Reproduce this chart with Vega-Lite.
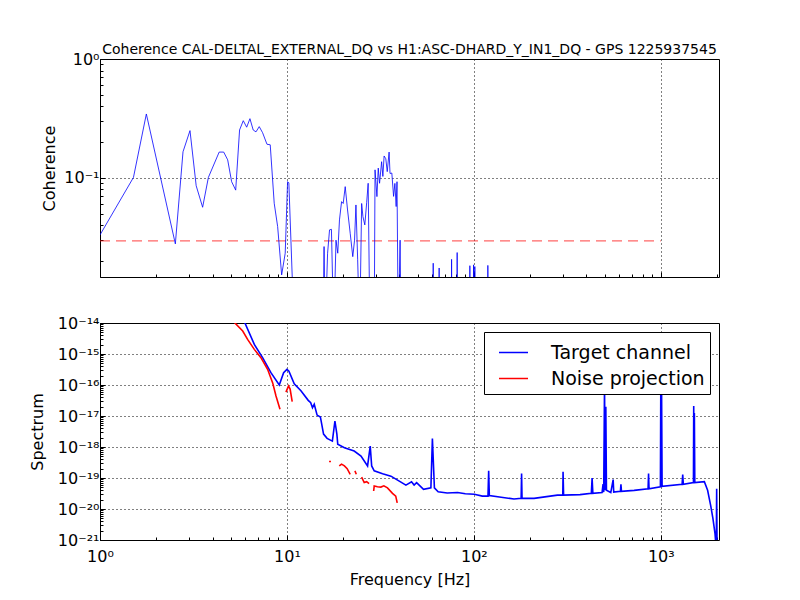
{
  "$schema": "https://vega.github.io/schema/vega-lite/v6.json",
  "background": "white",
  "padding": {"left": 28, "top": 42, "right": 0, "bottom": 0},
  "spacing": 36,
  "resolve": {"legend": {"color": "independent"}},
  "config": {
    "font": "DejaVu Sans",
    "view": {"stroke": "black", "strokeWidth": 1},
    "axis": {
      "domain": false,
      "grid": true,
      "gridColor": "black",
      "gridDash": [1, 3],
      "labelFontSize": 16,
      "labelColor": "black",
      "labelOverlap": false,
      "labelFlush": false,
      "titleFontSize": 16,
      "titleFontWeight": "normal",
      "titleColor": "black",
      "tickColor": "black"
    },
    "axisY": {"labelPadding": 6},
    "axisX": {"labelPadding": 13}
  },
  "datasets": {
    "coherence": [
      {"f": 1.0, "c": 0.0332}, {"f": 1.51, "c": 0.101}, {"f": 1.77, "c": 0.345}, {"f": 2.53, "c": 0.0279},
      {"f": 2.78, "c": 0.166}, {"f": 3.03, "c": 0.25}, {"f": 3.27, "c": 0.086}, {"f": 3.54, "c": 0.0567},
      {"f": 3.80, "c": 0.101}, {"f": 4.34, "c": 0.165}, {"f": 4.59, "c": 0.165}, {"f": 4.82, "c": 0.142},
      {"f": 5.06, "c": 0.093}, {"f": 5.32, "c": 0.079}, {"f": 5.58, "c": 0.253}, {"f": 5.84, "c": 0.303},
      {"f": 6.09, "c": 0.267}, {"f": 6.34, "c": 0.315}, {"f": 6.60, "c": 0.253}, {"f": 6.83, "c": 0.244},
      {"f": 7.11, "c": 0.27}, {"f": 7.41, "c": 0.24}, {"f": 7.82, "c": 0.192}, {"f": 8.14, "c": 0.19},
      {"f": 8.55, "c": 0.0613}, {"f": 8.92, "c": 0.039}, {"f": 9.37, "c": 0.0153}, {"f": 9.79, "c": 0.0233},
      {"f": 10.08, "c": 0.093}, {"f": 10.24, "c": 0.091}, {"f": 10.94, "c": 0.005}, {"f": 15.6, "c": 0.005},
      {"f": 15.8, "c": 0.0265}, {"f": 16.0, "c": 0.005}, {"f": 16.5, "c": 0.0233}, {"f": 16.9, "c": 0.0366},
      {"f": 17.3, "c": 0.037}, {"f": 17.8, "c": 0.005}, {"f": 18.3, "c": 0.030}, {"f": 18.7, "c": 0.0233},
      {"f": 19.1, "c": 0.0444}, {"f": 19.6, "c": 0.0632}, {"f": 20.0, "c": 0.061}, {"f": 20.5, "c": 0.0845},
      {"f": 21.1, "c": 0.0538}, {"f": 21.8, "c": 0.0343}, {"f": 22.5, "c": 0.0218}, {"f": 23.0, "c": 0.030},
      {"f": 23.4, "c": 0.0593}, {"f": 23.9, "c": 0.0205}, {"f": 24.5, "c": 0.005}, {"f": 25.1, "c": 0.061},
      {"f": 25.5, "c": 0.0473}, {"f": 26.1, "c": 0.0403}, {"f": 26.7, "c": 0.062}, {"f": 27.2, "c": 0.0902},
      {"f": 27.8, "c": 0.005}, {"f": 29.3, "c": 0.005}, {"f": 29.6, "c": 0.117}, {"f": 30.3, "c": 0.0697},
      {"f": 30.8, "c": 0.121}, {"f": 31.3, "c": 0.0902}, {"f": 32.1, "c": 0.137}, {"f": 32.6, "c": 0.103},
      {"f": 33.1, "c": 0.153}, {"f": 33.8, "c": 0.145}, {"f": 34.4, "c": 0.113}, {"f": 35.2, "c": 0.165},
      {"f": 35.6, "c": 0.109}, {"f": 36.4, "c": 0.11}, {"f": 37.2, "c": 0.07}, {"f": 37.8, "c": 0.09},
      {"f": 38.4, "c": 0.0575}, {"f": 38.8, "c": 0.093}, {"f": 39.4, "c": 0.005}, {"f": 40.3, "c": 0.03},
      {"f": 40.8, "c": 0.005},
      {"f": 60.3, "c": 0.005}, {"f": 60.6, "c": 0.0192}, {"f": 60.9, "c": 0.005},
      {"f": 65.0, "c": 0.005}, {"f": 65.2, "c": 0.0175}, {"f": 65.4, "c": 0.005},
      {"f": 75.8, "c": 0.005}, {"f": 76.0, "c": 0.0207}, {"f": 76.2, "c": 0.005},
      {"f": 81.2, "c": 0.005}, {"f": 81.4, "c": 0.0236}, {"f": 81.6, "c": 0.005},
      {"f": 95.0, "c": 0.005}, {"f": 95.2, "c": 0.0183}, {"f": 95.4, "c": 0.005},
      {"f": 99.4, "c": 0.005}, {"f": 99.6, "c": 0.0186}, {"f": 99.8, "c": 0.005},
      {"f": 101.0, "c": 0.005}, {"f": 101.2, "c": 0.018}, {"f": 101.4, "c": 0.005},
      {"f": 118.6, "c": 0.005}, {"f": 118.8, "c": 0.0184}, {"f": 119.0, "c": 0.005},
      {"f": 2048, "c": 0.005}
    ],
    "threshold": [
      {"f": 1, "c": 0.0296},
      {"f": 1000, "c": 0.0296}
    ],
    "spectrum": [
      {"series": "Target channel", "seg": 0, "f": 4, "s": 1e-13},
      {"series": "Target channel", "seg": 0, "f": 5.96, "s": 1e-14},
      {"series": "Target channel", "seg": 0, "f": 6.69, "s": 2.04e-15},
      {"series": "Target channel", "seg": 0, "f": 7.41, "s": 7.6e-16},
      {"series": "Target channel", "seg": 0, "f": 8.21, "s": 2.5e-16},
      {"series": "Target channel", "seg": 0, "f": 9.10, "s": 1.0e-16},
      {"series": "Target channel", "seg": 0, "f": 9.60, "s": 2.5e-16},
      {"series": "Target channel", "seg": 0, "f": 10.0, "s": 3.2e-16},
      {"series": "Target channel", "seg": 0, "f": 10.25, "s": 2.8e-16},
      {"series": "Target channel", "seg": 0, "f": 10.94, "s": 1.1e-16},
      {"series": "Target channel", "seg": 0, "f": 11.88, "s": 6.5e-17},
      {"series": "Target channel", "seg": 0, "f": 13.0, "s": 3.2e-17},
      {"series": "Target channel", "seg": 0, "f": 13.4, "s": 2.7e-17},
      {"series": "Target channel", "seg": 0, "f": 13.7, "s": 1.86e-17},
      {"series": "Target channel", "seg": 0, "f": 14.0, "s": 2.4e-17},
      {"series": "Target channel", "seg": 0, "f": 14.5, "s": 1.07e-17},
      {"series": "Target channel", "seg": 0, "f": 15.1, "s": 9.3e-18},
      {"series": "Target channel", "seg": 0, "f": 15.7, "s": 2.6e-18},
      {"series": "Target channel", "seg": 0, "f": 16.4, "s": 1.9e-18},
      {"series": "Target channel", "seg": 0, "f": 17.5, "s": 1.55e-18},
      {"series": "Target channel", "seg": 0, "f": 18.06, "s": 6.9e-18},
      {"series": "Target channel", "seg": 0, "f": 18.5, "s": 2.6e-18},
      {"series": "Target channel", "seg": 0, "f": 18.7, "s": 1.23e-18},
      {"series": "Target channel", "seg": 0, "f": 20.3, "s": 9.5e-19},
      {"series": "Target channel", "seg": 0, "f": 22.9, "s": 7.4e-19},
      {"series": "Target channel", "seg": 0, "f": 24.9, "s": 5.1e-19},
      {"series": "Target channel", "seg": 0, "f": 27.0, "s": 2.45e-19},
      {"series": "Target channel", "seg": 0, "f": 27.9, "s": 1.07e-18},
      {"series": "Target channel", "seg": 0, "f": 28.4, "s": 2.45e-19},
      {"series": "Target channel", "seg": 0, "f": 29.3, "s": 1.7e-19},
      {"series": "Target channel", "seg": 0, "f": 32.5, "s": 1.38e-19},
      {"series": "Target channel", "seg": 0, "f": 36.0, "s": 1.15e-19},
      {"series": "Target channel", "seg": 0, "f": 39.9, "s": 7.9e-20},
      {"series": "Target channel", "seg": 0, "f": 43.3, "s": 5.9e-20},
      {"series": "Target channel", "seg": 0, "f": 46.4, "s": 7.6e-20},
      {"series": "Target channel", "seg": 0, "f": 47.9, "s": 5.9e-20},
      {"series": "Target channel", "seg": 0, "f": 49.4, "s": 7.1e-20},
      {"series": "Target channel", "seg": 0, "f": 53.8, "s": 4.3e-20},
      {"series": "Target channel", "seg": 0, "f": 58.9, "s": 4.8e-20},
      {"series": "Target channel", "seg": 0, "f": 60.0, "s": 1.86e-18},
      {"series": "Target channel", "seg": 0, "f": 61.5, "s": 4.8e-20},
      {"series": "Target channel", "seg": 0, "f": 64.4, "s": 3.6e-20},
      {"series": "Target channel", "seg": 0, "f": 72.0, "s": 3.3e-20},
      {"series": "Target channel", "seg": 0, "f": 81.8, "s": 3.4e-20},
      {"series": "Target channel", "seg": 0, "f": 90.0, "s": 3.1e-20},
      {"series": "Target channel", "seg": 0, "f": 100.5, "s": 3.0e-20},
      {"series": "Target channel", "seg": 0, "f": 111, "s": 2.6e-20},
      {"series": "Target channel", "seg": 0, "f": 119, "s": 2.6e-20},
      {"series": "Target channel", "seg": 0, "f": 120, "s": 1.7e-19},
      {"series": "Target channel", "seg": 0, "f": 121, "s": 2.7e-20},
      {"series": "Target channel", "seg": 0, "f": 140, "s": 2.4e-20},
      {"series": "Target channel", "seg": 0, "f": 164, "s": 2.1e-20},
      {"series": "Target channel", "seg": 0, "f": 179, "s": 2.2e-20},
      {"series": "Target channel", "seg": 0, "f": 180, "s": 1.4e-19},
      {"series": "Target channel", "seg": 0, "f": 181, "s": 2.2e-20},
      {"series": "Target channel", "seg": 0, "f": 210, "s": 2.2e-20},
      {"series": "Target channel", "seg": 0, "f": 245, "s": 2.5e-20},
      {"series": "Target channel", "seg": 0, "f": 280, "s": 2.8e-20},
      {"series": "Target channel", "seg": 0, "f": 299, "s": 2.8e-20},
      {"series": "Target channel", "seg": 0, "f": 300, "s": 1.6e-19},
      {"series": "Target channel", "seg": 0, "f": 302, "s": 2.8e-20},
      {"series": "Target channel", "seg": 0, "f": 370, "s": 2.9e-20},
      {"series": "Target channel", "seg": 0, "f": 425, "s": 3.2e-20},
      {"series": "Target channel", "seg": 0, "f": 429, "s": 1.0e-19},
      {"series": "Target channel", "seg": 0, "f": 433, "s": 3.2e-20},
      {"series": "Target channel", "seg": 0, "f": 485, "s": 3.4e-20},
      {"series": "Target channel", "seg": 0, "f": 491, "s": 6.3e-20},
      {"series": "Target channel", "seg": 0, "f": 495, "s": 3.5e-20},
      {"series": "Target channel", "seg": 0, "f": 500, "s": 1e-16},
      {"series": "Target channel", "seg": 0, "f": 504, "s": 4e-20},
      {"series": "Target channel", "seg": 0, "f": 508, "s": 2e-17},
      {"series": "Target channel", "seg": 0, "f": 512, "s": 4e-20},
      {"series": "Target channel", "seg": 0, "f": 540, "s": 3.4e-20},
      {"series": "Target channel", "seg": 0, "f": 556, "s": 8.9e-20},
      {"series": "Target channel", "seg": 0, "f": 560, "s": 3.5e-20},
      {"series": "Target channel", "seg": 0, "f": 608, "s": 3.7e-20},
      {"series": "Target channel", "seg": 0, "f": 612, "s": 6.3e-20},
      {"series": "Target channel", "seg": 0, "f": 616, "s": 3.7e-20},
      {"series": "Target channel", "seg": 0, "f": 720, "s": 4.0e-20},
      {"series": "Target channel", "seg": 0, "f": 855, "s": 4.5e-20},
      {"series": "Target channel", "seg": 0, "f": 860, "s": 1.4e-19},
      {"series": "Target channel", "seg": 0, "f": 865, "s": 4.5e-20},
      {"series": "Target channel", "seg": 0, "f": 995, "s": 5.2e-20},
      {"series": "Target channel", "seg": 0, "f": 1000, "s": 1e-16},
      {"series": "Target channel", "seg": 0, "f": 1005, "s": 5.2e-20},
      {"series": "Target channel", "seg": 0, "f": 1010, "s": 5e-17},
      {"series": "Target channel", "seg": 0, "f": 1016, "s": 5.4e-20},
      {"series": "Target channel", "seg": 0, "f": 1300, "s": 6.3e-20},
      {"series": "Target channel", "seg": 0, "f": 1310, "s": 1.3e-19},
      {"series": "Target channel", "seg": 0, "f": 1320, "s": 6.3e-20},
      {"series": "Target channel", "seg": 0, "f": 1495, "s": 7.1e-20},
      {"series": "Target channel", "seg": 0, "f": 1500, "s": 2.1e-17},
      {"series": "Target channel", "seg": 0, "f": 1506, "s": 7.1e-20},
      {"series": "Target channel", "seg": 0, "f": 1512, "s": 1.26e-17},
      {"series": "Target channel", "seg": 0, "f": 1520, "s": 7.1e-20},
      {"series": "Target channel", "seg": 0, "f": 1710, "s": 7.6e-20},
      {"series": "Target channel", "seg": 0, "f": 1780, "s": 4e-20},
      {"series": "Target channel", "seg": 0, "f": 1850, "s": 1.26e-20},
      {"series": "Target channel", "seg": 0, "f": 1900, "s": 5e-21},
      {"series": "Target channel", "seg": 0, "f": 1950, "s": 1.6e-21},
      {"series": "Target channel", "seg": 0, "f": 1980, "s": 5e-22},
      {"series": "Target channel", "seg": 0, "f": 1990, "s": 4.5e-20},
      {"series": "Target channel", "seg": 0, "f": 2000, "s": 4e-22},
      {"series": "Target channel", "seg": 0, "f": 2048, "s": 2.5e-22},
      {"series": "Noise projection", "seg": 1, "f": 4.5, "s": 5e-14},
      {"series": "Noise projection", "seg": 1, "f": 5.27, "s": 1e-14},
      {"series": "Noise projection", "seg": 1, "f": 5.80, "s": 5.5e-15},
      {"series": "Noise projection", "seg": 1, "f": 6.16, "s": 2.95e-15},
      {"series": "Noise projection", "seg": 1, "f": 6.69, "s": 1.41e-15},
      {"series": "Noise projection", "seg": 1, "f": 7.26, "s": 7.6e-16},
      {"series": "Noise projection", "seg": 1, "f": 7.88, "s": 3.2e-16},
      {"series": "Noise projection", "seg": 1, "f": 8.39, "s": 1.17e-16},
      {"series": "Noise projection", "seg": 1, "f": 8.74, "s": 4.4e-17},
      {"series": "Noise projection", "seg": 1, "f": 9.18, "s": 1.66e-17},
      {"series": "Noise projection", "seg": 2, "f": 9.88, "s": 5.9e-17},
      {"series": "Noise projection", "seg": 2, "f": 10.2, "s": 9.3e-17},
      {"series": "Noise projection", "seg": 2, "f": 10.4, "s": 7.4e-17},
      {"series": "Noise projection", "seg": 2, "f": 10.67, "s": 2.9e-17},
      {"series": "Noise projection", "seg": 3, "f": 16.8, "s": 3.4e-19},
      {"series": "Noise projection", "seg": 3, "f": 17.2, "s": 3.4e-19},
      {"series": "Noise projection", "seg": 4, "f": 19.05, "s": 2.45e-19},
      {"series": "Noise projection", "seg": 4, "f": 19.6, "s": 2.8e-19},
      {"series": "Noise projection", "seg": 4, "f": 20.3, "s": 2.45e-19},
      {"series": "Noise projection", "seg": 4, "f": 21.0, "s": 2e-19},
      {"series": "Noise projection", "seg": 4, "f": 21.8, "s": 1.32e-19},
      {"series": "Noise projection", "seg": 5, "f": 23.1, "s": 1.7e-19},
      {"series": "Noise projection", "seg": 5, "f": 23.5, "s": 1.32e-19},
      {"series": "Noise projection", "seg": 6, "f": 25.1, "s": 1.07e-19},
      {"series": "Noise projection", "seg": 6, "f": 25.9, "s": 7.1e-20},
      {"series": "Noise projection", "seg": 6, "f": 26.7, "s": 7.6e-20},
      {"series": "Noise projection", "seg": 6, "f": 27.5, "s": 6.6e-20},
      {"series": "Noise projection", "seg": 7, "f": 29.1, "s": 3.8e-20},
      {"series": "Noise projection", "seg": 7, "f": 29.3, "s": 5.5e-20},
      {"series": "Noise projection", "seg": 7, "f": 30.5, "s": 5.2e-20},
      {"series": "Noise projection", "seg": 7, "f": 31.8, "s": 5.1e-20},
      {"series": "Noise projection", "seg": 7, "f": 33.0, "s": 5.6e-20},
      {"series": "Noise projection", "seg": 7, "f": 34.5, "s": 4.8e-20},
      {"series": "Noise projection", "seg": 7, "f": 36.7, "s": 3.2e-20},
      {"series": "Noise projection", "seg": 7, "f": 38.2, "s": 2.6e-20},
      {"series": "Noise projection", "seg": 7, "f": 38.9, "s": 1.58e-20}
    ]
  },
  "vconcat": [
    {
      "width": 619,
      "height": 218,
      "title": {
        "text": "Coherence CAL-DELTAL_EXTERNAL_DQ vs H1:ASC-DHARD_Y_IN1_DQ - GPS 1225937545",
        "fontSize": 14,
        "fontWeight": "normal",
        "color": "black",
        "offset": -6
      },
      "layer": [
        {
          "data": {"name": "threshold"},
          "mark": {"type": "line", "color": "#ff0000", "opacity": 0.6, "strokeDash": [10, 6], "strokeWidth": 1.2, "clip": true},
          "encoding": {
            "x": {"field": "f", "type": "quantitative", "scale": {"type": "log", "domain": [1, 2048], "nice": false}},
            "y": {"field": "c", "type": "quantitative", "scale": {"type": "log", "domain": [0.0147, 1], "nice": false}}
          }
        },
        {
          "data": {"name": "coherence"},
          "mark": {"type": "line", "color": "#0000ff", "strokeWidth": 0.8, "clip": true},
          "encoding": {
            "x": {
              "field": "f", "type": "quantitative",
              "scale": {"type": "log", "domain": [1, 2048], "nice": false},
              "axis": {
                "title": null,
                "labels": false,
                "values": [1,2,3,4,5,6,7,8,9,10,20,30,40,50,60,70,80,90,100,200,300,400,500,600,700,800,900,1000,2000],
                "tickSize": {"condition": {"test": "abs(log(datum.value)/LN10 - round(log(datum.value)/LN10)) < 0.01", "value": -5}, "value": -3},
                "gridOpacity": {"condition": {"test": "abs(log(datum.value)/LN10 - round(log(datum.value)/LN10)) < 0.01", "value": 1}, "value": 0}
              }
            },
            "y": {
              "field": "c", "type": "quantitative",
              "scale": {"type": "log", "domain": [0.0147, 1], "nice": false},
              "axis": {
                "title": "Coherence",
                "titlePadding": 6,
                "values": [0.02,0.03,0.04,0.05,0.06,0.07,0.08,0.09,0.1,0.2,0.3,0.4,0.5,0.6,0.7,0.8,0.9,1],
                "labelExpr": "abs(log(datum.value)/LN10 - round(log(datum.value)/LN10)) > 0.01 ? '' : '10' + (round(log(datum.value)/LN10) < 0 ? '⁻' : '') + (abs(round(log(datum.value)/LN10)) >= 10 ? substring('⁰¹²³⁴⁵⁶⁷⁸⁹', floor(abs(round(log(datum.value)/LN10))/10), floor(abs(round(log(datum.value)/LN10))/10) + 1) : '') + substring('⁰¹²³⁴⁵⁶⁷⁸⁹', abs(round(log(datum.value)/LN10)) % 10, abs(round(log(datum.value)/LN10)) % 10 + 1)",
                "tickSize": {"condition": {"test": "abs(log(datum.value)/LN10 - round(log(datum.value)/LN10)) < 0.01", "value": -5}, "value": -3},
                "gridOpacity": {"condition": {"test": "abs(log(datum.value)/LN10 - round(log(datum.value)/LN10)) < 0.01", "value": 1}, "value": 0}
              }
            }
          }
        }
      ]
    },
    {
      "width": 619,
      "height": 217,
      "data": {"name": "spectrum"},
      "mark": {"type": "line", "strokeWidth": 1.6, "clip": true},
      "encoding": {
        "x": {
          "field": "f", "type": "quantitative",
          "scale": {"type": "log", "domain": [1, 2048], "nice": false},
          "axis": {
            "title": "Frequency [Hz]",
            "titlePadding": 5,
            "values": [1,2,3,4,5,6,7,8,9,10,20,30,40,50,60,70,80,90,100,200,300,400,500,600,700,800,900,1000,2000],
            "labelExpr": "abs(log(datum.value)/LN10 - round(log(datum.value)/LN10)) > 0.01 ? '' : '10' + (round(log(datum.value)/LN10) < 0 ? '⁻' : '') + substring('⁰¹²³⁴⁵⁶⁷⁸⁹', abs(round(log(datum.value)/LN10)) % 10, abs(round(log(datum.value)/LN10)) % 10 + 1)",
            "tickSize": {"condition": {"test": "abs(log(datum.value)/LN10 - round(log(datum.value)/LN10)) < 0.01", "value": -5}, "value": -3},
            "gridOpacity": {"condition": {"test": "abs(log(datum.value)/LN10 - round(log(datum.value)/LN10)) < 0.01", "value": 1}, "value": 0}
          }
        },
        "y": {
          "field": "s", "type": "quantitative",
          "scale": {"type": "log", "domain": [1e-21, 1e-14], "nice": false},
          "axis": {
            "title": "Spectrum",
            "titlePadding": 12,
            "values": [1e-21,2e-21,3e-21,4e-21,5e-21,6e-21,7e-21,8e-21,9e-21,1e-20,2e-20,3e-20,4e-20,5e-20,6e-20,7e-20,8e-20,9e-20,1e-19,2e-19,3e-19,4e-19,5e-19,6e-19,7e-19,8e-19,9e-19,1e-18,2e-18,3e-18,4e-18,5e-18,6e-18,7e-18,8e-18,9e-18,1e-17,2e-17,3e-17,4e-17,5e-17,6e-17,7e-17,8e-17,9e-17,1e-16,2e-16,3e-16,4e-16,5e-16,6e-16,7e-16,8e-16,9e-16,1e-15,2e-15,3e-15,4e-15,5e-15,6e-15,7e-15,8e-15,9e-15,1e-14],
            "labelExpr": "abs(log(datum.value)/LN10 - round(log(datum.value)/LN10)) > 0.01 ? '' : '10' + (round(log(datum.value)/LN10) < 0 ? '⁻' : '') + (abs(round(log(datum.value)/LN10)) >= 10 ? substring('⁰¹²³⁴⁵⁶⁷⁸⁹', floor(abs(round(log(datum.value)/LN10))/10), floor(abs(round(log(datum.value)/LN10))/10) + 1) : '') + substring('⁰¹²³⁴⁵⁶⁷⁸⁹', abs(round(log(datum.value)/LN10)) % 10, abs(round(log(datum.value)/LN10)) % 10 + 1)",
            "tickSize": {"condition": {"test": "abs(log(datum.value)/LN10 - round(log(datum.value)/LN10)) < 0.01", "value": -5}, "value": -3},
            "gridOpacity": {"condition": {"test": "abs(log(datum.value)/LN10 - round(log(datum.value)/LN10)) < 0.01", "value": 1}, "value": 0}
          }
        },
        "color": {
          "field": "series", "type": "nominal",
          "scale": {"domain": ["Target channel", "Noise projection"], "range": ["#0000ff", "#ff0000"]},
          "legend": {
            "title": null,
            "orient": "top-right",
            "offset": 9,
            "fillColor": "white",
            "strokeColor": "black",
            "padding": 5,
            "labelFontSize": 19,
            "labelColor": "black",
            "labelOffset": 22,
            "rowPadding": 0,
            "symbolOffset": 9,
            "symbolType": "stroke",
            "symbolSize": 840,
            "symbolStrokeWidth": 1.5
          }
        },
        "detail": {"field": "seg", "type": "nominal"}
      }
    }
  ]
}
